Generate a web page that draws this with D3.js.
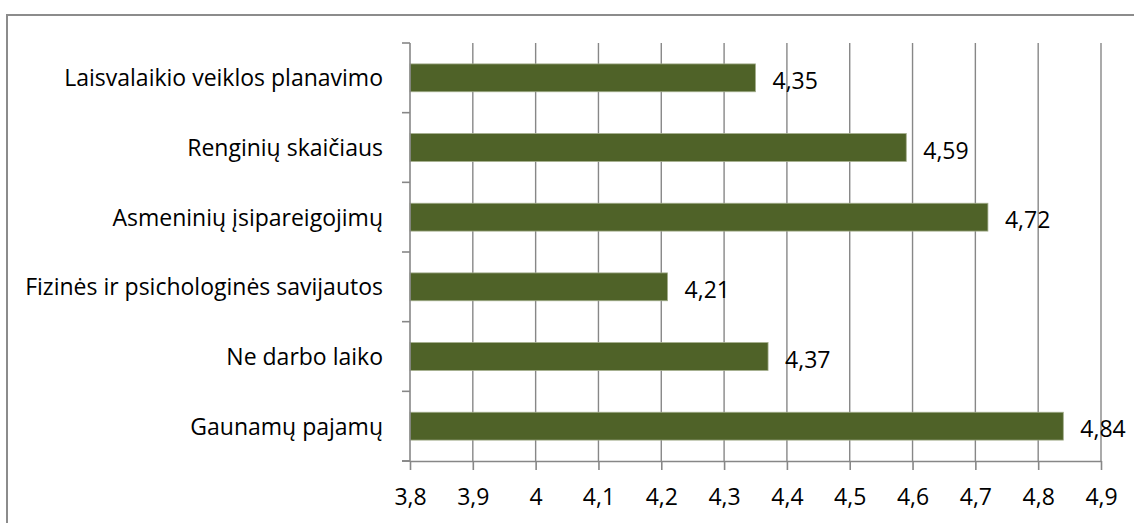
<!DOCTYPE html>
<html>
<head>
<meta charset="utf-8">
<script src="https://cdn.jsdelivr.net/npm/d3@7"></script>
<style>
  html, body { margin: 0; padding: 0; background: #fff; }
  svg { display: block; }
  text { font-family: "Open Sans", Lato, sans-serif; fill: #000; }
</style>
</head>
<body>
<svg id="chart" width="1134" height="523"></svg>
<script>
// Categories listed top to bottom with their mean scores
const categories = [
  "Laisvalaikio veiklos planavimo",
  "Renginių skaičiaus",
  "Asmeninių įsipareigojimų",
  "Fizinės ir psichologinės savijautos",
  "Ne darbo laiko",
  "Gaunamų pajamų"
];
const values = [4.35, 4.59, 4.72, 4.21, 4.37, 4.84];
const xTicks = [3.8, 3.9, 4.0, 4.1, 4.2, 4.3, 4.4, 4.5, 4.6, 4.7, 4.8, 4.9];

const svg = d3.select("#chart");
const W = 1134, H = 523;
const plot = { left: 410, right: 1101, top: 43, bottom: 461 };
const fontSize = 23;
const fmt = v => d3.format(".2~f")(v).replace(".", ",");

// Outer frame (only top and left edges fall inside the canvas)
svg.append("path")
  .attr("d", `M7,${H} L7,15 L${W},15`)
  .attr("fill", "none")
  .attr("stroke", "#8c8c8c")
  .attr("stroke-width", 2);

const x = d3.scaleLinear().domain([3.8, 4.9]).range([plot.left, plot.right]);
const y = d3.scaleBand().domain(categories).range([plot.top, plot.bottom]).paddingInner(0.6).paddingOuter(0.3);

// Vertical gridlines
svg.append("g")
  .selectAll("line")
  .data(xTicks.slice(1))
  .join("line")
  .attr("x1", d => x(d)).attr("x2", d => x(d))
  .attr("y1", plot.top).attr("y2", plot.bottom)
  .attr("stroke", "#878787")
  .attr("stroke-width", 1.4);

// Bars
svg.append("g")
  .selectAll("rect")
  .data(values)
  .join("rect")
  .attr("x", x(3.8))
  .attr("y", (d, i) => y(categories[i]))
  .attr("width", d => x(d) - x(3.8))
  .attr("height", y.bandwidth())
  .attr("fill", "#4f6228")
  .attr("stroke", "#a3ad8c")
  .attr("stroke-width", 0.8);

// Category (left) axis with tick marks on the band boundaries
const yEdge = d3.scaleLinear().domain([0, categories.length]).range([plot.top, plot.bottom]);
const leftAxis = svg.append("g");
leftAxis.append("line")
  .attr("x1", plot.left).attr("x2", plot.left)
  .attr("y1", plot.top).attr("y2", plot.bottom)
  .attr("stroke", "#878787").attr("stroke-width", 1.6);
leftAxis.selectAll("line.tk")
  .data(d3.range(categories.length + 1))
  .join("line")
  .attr("class", "tk")
  .attr("x1", plot.left - 8).attr("x2", plot.left)
  .attr("y1", d => yEdge(d)).attr("y2", d => yEdge(d))
  .attr("stroke", "#878787").attr("stroke-width", 1.6);
leftAxis.selectAll("text")
  .data(categories)
  .join("text")
  .attr("x", 383)
  .attr("y", d => y(d) + y.bandwidth() / 2 + 8.5)
  .attr("text-anchor", "end")
  .attr("font-size", fontSize)
  .text(d => d);

// Value (bottom) axis
const xAxis = d3.axisBottom(x)
  .tickValues(xTicks)
  .tickSize(9)
  .tickSizeOuter(0)
  .tickFormat(fmt);
const gx = svg.append("g")
  .attr("transform", `translate(0,${plot.bottom})`)
  .call(xAxis);
gx.attr("font-family", null).attr("font-size", null);
gx.select(".domain").attr("stroke", "#878787").attr("stroke-width", 1.6);
gx.selectAll(".tick line").attr("stroke", "#878787").attr("stroke-width", 1.6);
gx.selectAll(".tick text")
  .attr("font-size", fontSize)
  .attr("fill", "#000")
  .attr("dy", null)
  .attr("y", 44);
// extend baseline leftwards to meet the bottom category tick
svg.append("line")
  .attr("x1", plot.left - 8).attr("x2", plot.left)
  .attr("y1", plot.bottom).attr("y2", plot.bottom)
  .attr("stroke", "#878787").attr("stroke-width", 1.6);

// Value labels beside bars
svg.append("g")
  .selectAll("text")
  .data(values)
  .join("text")
  .attr("x", d => x(d) + 17)
  .attr("y", (d, i) => y(categories[i]) + y.bandwidth() / 2 + 11)
  .attr("font-size", fontSize)
  .text(d => fmt(d));
</script>
</body>
</html>
